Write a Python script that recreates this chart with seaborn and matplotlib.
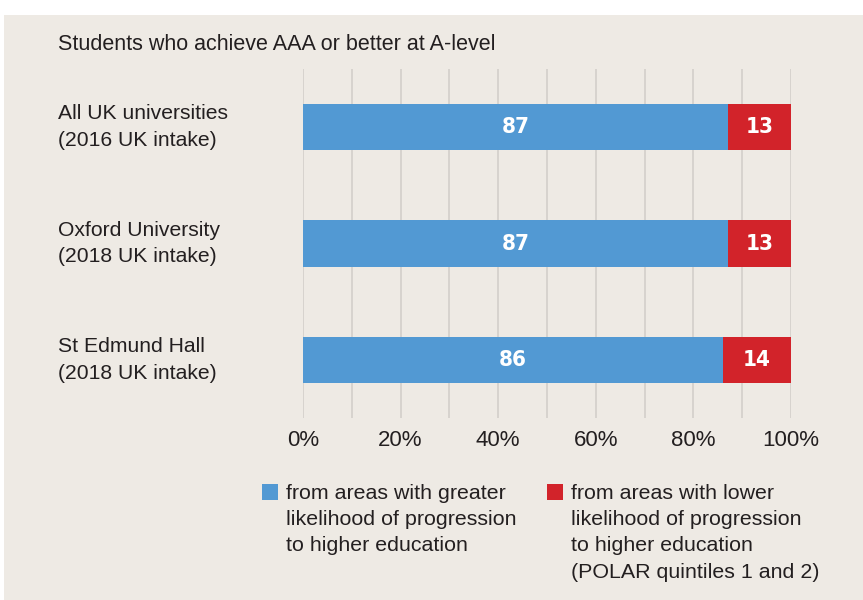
import matplotlib
matplotlib.use("Agg")
import matplotlib.pyplot as plt
from matplotlib.patches import Rectangle
from matplotlib.transforms import blended_transform_factory
import seaborn as sns
import pandas as pd

# ---- data ----
categories = ["All UK universities\n(2016 UK intake)",
              "Oxford University\n(2018 UK intake)",
              "St Edmund Hall\n(2018 UK intake)"]
greater = [87, 87, 86]
lower = [13, 13, 14]
tick_values = [0, 20, 40, 60, 80, 100]
tick_labels = ["0%", "20%", "40%", "60%", "80%", "100%"]
title = "Students who achieve AAA or better at A-level"
legend_labels = ["from areas with greater\nlikelihood of progression\nto higher education",
                 "from areas with lower\nlikelihood of progression\nto higher education\n(POLAR quintiles 1 and 2)"]

BLUE = "#5299D3"
RED = "#D2232A"
BG = "#EEEAE4"
TXT = "#231F20"
GRID = "#D3CFCA"

sns.set_theme(style="white")
plt.rcParams["font.family"] = ["Liberation Sans", "DejaVu Sans"]

df = pd.DataFrame({"cat": categories, "greater": greater, "lower": lower})
df["total"] = df["greater"] + df["lower"]

fig = plt.figure(figsize=(8.63, 6.0), dpi=100)
fig.patch.set_facecolor("white")
fig.add_artist(Rectangle((4 / 863, 0), 1 - 4 / 863, 1 - 15 / 600,
                         transform=fig.transFigure, facecolor=BG,
                         edgecolor="none", zorder=0))

ax = fig.add_axes([303 / 863, 1 - 418 / 600, (791 - 303) / 863, (418 - 69) / 600])
ax.set_facecolor("none")
ax.set_zorder(2)

sns.barplot(data=df, y="cat", x="total", color=RED, orient="h", ax=ax,
            width=0.4, saturation=1, zorder=3, linewidth=0)
sns.barplot(data=df, y="cat", x="greater", color=BLUE, orient="h", ax=ax,
            width=0.4, saturation=1, zorder=4, linewidth=0)

ax.set_xlim(0, 100)
ax.set_ylim(2.5, -0.5)
ax.set_xticks(tick_values)
ax.set_xticklabels(tick_labels, fontsize=16, color=TXT)
ax.set_xticks(range(0, 101, 10), minor=True)
ax.grid(True, axis="x", which="both", color=GRID, linewidth=1.2, zorder=1)
ax.set_axisbelow(True)
ax.tick_params(axis="x", which="both", length=0, pad=9)
ax.set_yticks([])
ax.set_xlabel("")
ax.set_ylabel("")
for s in ax.spines.values():
    s.set_visible(False)

# category labels
lab_tr = blended_transform_factory(fig.transFigure, ax.transData)
for i, c in enumerate(categories):
    ax.text(58 / 863, i, c, transform=lab_tr, ha="left", va="center",
            fontsize=15.2, color=TXT, linespacing=1.5)

# value labels
vfont = dict(color="white", fontsize=16, fontweight="bold",
             family=["DejaVu Sans"], fontstretch="condensed", zorder=5,
             ha="center", va="center")
for i in range(len(categories)):
    ax.text(greater[i] / 2, i, str(greater[i]), **vfont)
    ax.text(greater[i] + lower[i] / 2, i, str(lower[i]), **vfont)

# title
fig.text(58 / 863, 1 - 45 / 600, title, ha="left", va="center",
         fontsize=15.5, color=TXT)

# legend
for (sx, tx), lab, col in zip([(262, 286), (547, 571)], legend_labels, [BLUE, RED]):
    fig.add_artist(Rectangle((sx / 863, 1 - 500 / 600), 16 / 863, 16 / 600,
                             transform=fig.transFigure, facecolor=col,
                             edgecolor="none", zorder=3))
    fig.text(tx / 863, 1 - 484 / 600, lab, ha="left", va="top",
             fontsize=15.4, color=TXT, linespacing=1.48)

fig.savefig("out.png", dpi=100, facecolor=fig.get_facecolor())
